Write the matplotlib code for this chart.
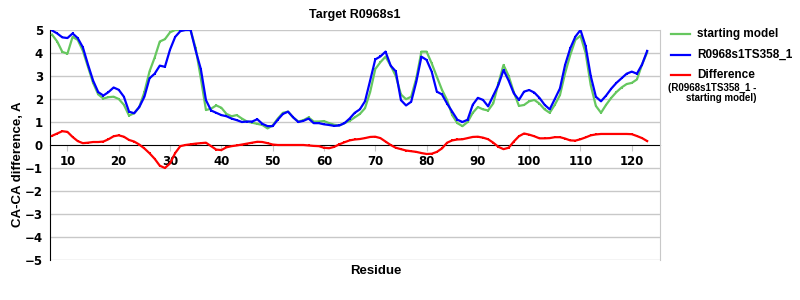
import numpy as np
import matplotlib
matplotlib.use('Agg')
import matplotlib.pyplot as plt
from matplotlib.lines import Line2D

residues = list(range(7, 124))

target_model = [
    4.98, 4.85, 4.68, 4.65, 4.85, 4.65, 4.25, 3.5, 2.8, 2.3,
    2.15, 2.3, 2.5, 2.4, 2.1, 1.45, 1.38, 1.65, 2.1, 2.9,
    3.1, 3.45, 3.4, 4.15, 4.7, 4.95, 5.0, 5.0, 4.1, 3.3,
    1.95, 1.5, 1.4, 1.3, 1.25, 1.15, 1.08, 1.0, 1.02, 1.02,
    1.12, 0.92, 0.82, 0.82, 1.1, 1.35, 1.45, 1.2, 1.0, 1.05,
    1.15, 0.95, 0.95, 0.9, 0.87, 0.83, 0.85, 0.95, 1.15, 1.4,
    1.55, 1.9, 2.8, 3.72, 3.85, 4.06, 3.45, 3.2, 1.95, 1.72,
    1.88, 2.75, 3.84, 3.7, 3.19, 2.32, 2.2, 1.8, 1.45, 1.1,
    1.0, 1.1, 1.75, 2.05, 1.96, 1.68, 2.15, 2.61, 3.26, 2.8,
    2.25, 1.96, 2.32, 2.39, 2.28, 2.05, 1.75, 1.55, 2.0, 2.46,
    3.48, 4.2, 4.71, 5.0, 4.3, 3.0, 2.1, 1.9, 2.15, 2.45,
    2.7, 2.9, 3.1, 3.19, 3.1, 3.5, 4.09,
]

starting_model = [
    4.8, 4.5, 4.05, 3.97, 4.7, 4.57, 4.1, 3.4, 2.7, 2.2,
    2.02, 2.08, 2.1, 2.0, 1.75, 1.28, 1.38, 1.65, 2.3, 3.2,
    3.8, 4.5, 4.6, 4.9, 5.0, 5.0, 5.0, 5.0, 4.2, 2.9,
    1.52, 1.58, 1.72, 1.62, 1.35, 1.25, 1.3, 1.15, 1.02, 0.97,
    0.92, 0.87, 0.72, 0.85, 1.15, 1.4, 1.45, 1.2, 1.02, 1.08,
    1.2, 1.02, 1.02, 1.04, 0.95, 0.88, 0.85, 0.95, 1.05, 1.2,
    1.35, 1.6, 2.3, 3.3, 3.6, 3.84, 3.45, 3.0, 2.2, 1.99,
    2.1, 2.9, 4.06, 4.06, 3.55, 2.97, 2.4, 1.95, 1.3, 0.95,
    0.82, 1.0, 1.4, 1.65, 1.55, 1.5, 1.81, 2.68, 3.48, 3.0,
    2.3, 1.7, 1.74, 1.9, 1.96, 1.8, 1.55, 1.4, 1.75, 2.17,
    3.12, 3.91, 4.57, 4.75, 4.0, 2.6, 1.7, 1.4, 1.75, 2.05,
    2.3, 2.5, 2.65, 2.7, 2.85, 3.5, 4.03,
]

difference = [
    0.4, 0.5, 0.6, 0.57, 0.35, 0.17, 0.08, 0.1, 0.13, 0.13,
    0.15, 0.25, 0.38, 0.42, 0.36, 0.22, 0.15, 0.02, -0.15, -0.36,
    -0.6, -0.9, -1.0, -0.8, -0.35, -0.05, 0.0, 0.03, 0.06, 0.08,
    0.1, -0.05, -0.2, -0.22, -0.1, -0.05, -0.02, 0.02, 0.06, 0.1,
    0.14, 0.13, 0.08, 0.02, 0.0, 0.0, 0.0, 0.0, 0.0, 0.0,
    -0.02, -0.04, -0.05, -0.12, -0.14, -0.08, 0.03, 0.12, 0.2, 0.24,
    0.26, 0.3, 0.35, 0.36, 0.3, 0.15, 0.0, -0.12, -0.18, -0.24,
    -0.27, -0.3, -0.35, -0.39, -0.38, -0.3, -0.15, 0.1, 0.2, 0.24,
    0.25, 0.3, 0.35, 0.36, 0.32, 0.25, 0.1, -0.08, -0.18, -0.12,
    0.15, 0.38, 0.5, 0.45, 0.38, 0.29, 0.29, 0.3, 0.34, 0.34,
    0.28, 0.2, 0.19, 0.25, 0.33, 0.42, 0.46, 0.48, 0.48, 0.48,
    0.48, 0.48, 0.48, 0.47, 0.39, 0.3, 0.17,
]

x_ticks = list(range(10, 121, 10))
y_ticks = list(range(-5, 6))

green = '#66c75f'
blue = '#0000ff'
red = '#ff0000'

fig = plt.figure(figsize=(8, 3), dpi=100)
ax = fig.add_axes([50 / 800, 1 - 260 / 300, 610 / 800, 230 / 300])

line_kw = dict(linewidth=1.6, marker='s', markersize=1.6, markeredgewidth=0)
ax.plot(residues, starting_model, color=green, **line_kw, zorder=3)
ax.plot(residues, target_model, color=blue, **line_kw, zorder=4)
ax.plot(residues, difference, color=red, **line_kw, zorder=5)

ax.set_xlim(6.6, 125.5)
ax.set_ylim(-5, 5)
ax.set_yticks(y_ticks)
ax.set_yticklabels([str(v).replace('-', '\u2212') for v in y_ticks])
ax.set_xticks(x_ticks)

for v in y_ticks:
    if v != 0:
        ax.axhline(v, color='#c8c8c8', linewidth=1, zorder=1)

ax.spines['top'].set_visible(False)
ax.spines['right'].set_color('#c8c8c8')
ax.spines['bottom'].set_position(('data', 0))
ax.spines['bottom'].set_color('black')
ax.spines['left'].set_color('black')
ax.spines['bottom'].set_zorder(2)

ax.tick_params(axis='x', length=4, color='#c8c8c8', pad=3, direction='out')
ax.tick_params(axis='y', length=0, pad=5)
for lbl in ax.get_xticklabels() + ax.get_yticklabels():
    lbl.set_fontweight('bold')
    lbl.set_fontsize(8.5)

fig.text(355 / 800, 1 - 15 / 300, 'Target R0968s1', ha='center', va='center',
         fontsize=9, fontweight='bold', family='Liberation Sans')
fig.text(376 / 800, 1 - 271 / 300, 'Residue', ha='center', va='center',
         fontsize=9.5, fontweight='bold', family='Liberation Sans')
fig.text(18 / 800, 1 - 164 / 300, 'CA-CA difference, A', ha='center', va='center',
         rotation=90, fontsize=9.5, fontweight='bold', family='Liberation Sans')

# legend drawn by hand
legend_items = [('starting model', green, 34), ('R0968s1TS358_1', blue, 55), ('Difference', red, 75)]
for label, col, ypix in legend_items:
    yy = 1 - ypix / 300
    fig.add_artist(Line2D([671 / 800, 690 / 800], [yy, yy], color=col, linewidth=1.6,
                          marker='s', markersize=1.6, markeredgewidth=0, markevery=[0, 1]))
    fig.text(697 / 800, yy, label, ha='left', va='center', fontsize=8.5,
             fontweight='bold', family='Liberation Sans')
fig.text(668 / 800, 1 - 88 / 300, '(R0968s1TS358_1 -', ha='left', va='center',
         fontsize=7, fontweight='bold', family='Liberation Sans')
fig.text(757 / 800, 1 - 98 / 300, 'starting model)', ha='right', va='center',
         fontsize=7, fontweight='bold', family='Liberation Sans')

fig.savefig('out.png', dpi=100)
